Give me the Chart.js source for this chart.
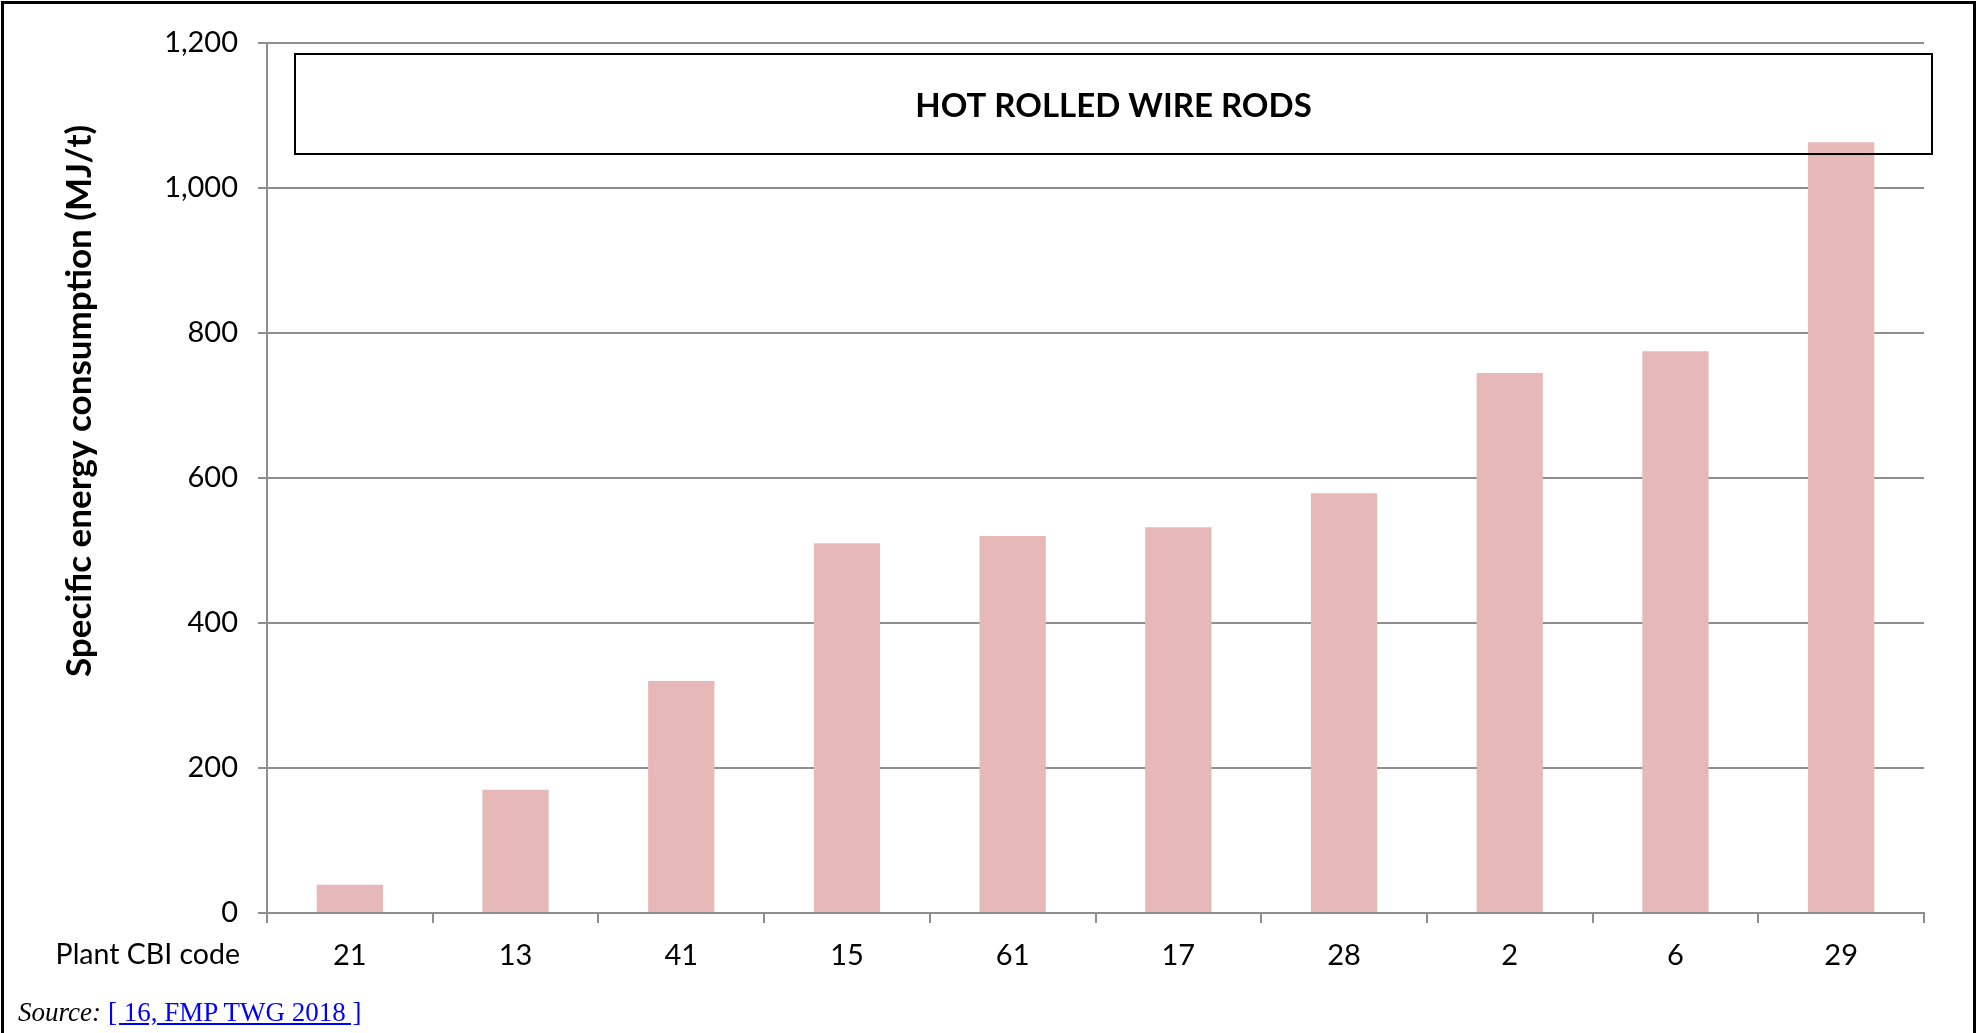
<!DOCTYPE html>
<html>
<head>
<meta charset="utf-8">
<script src="https://cdn.jsdelivr.net/npm/chart.js@4.4.1/dist/chart.umd.min.js"></script>
<style>
  html, body { margin: 0; padding: 0; background: #ffffff; }
  #wrap { position: relative; width: 1977px; height: 1033px; overflow: hidden; }
  #c { position: absolute; left: 0; top: 0; }
  #source { position: absolute; left: 18px; top: 997px; font-family: "Liberation Serif", "Times New Roman", serif; font-size: 27px; color: #000; white-space: nowrap; }
  #source i { font-style: italic; }
  #source a { color: #0000ff; text-decoration: underline; margin-left: 7px; }
</style>
</head>
<body>
<div id="wrap">
  <canvas id="c" width="1977" height="1033"></canvas>
  <div id="source"><i>Source:</i><a href="#">[ 16, FMP TWG 2018 ]</a></div>
</div>
<script>
const categories = ["21", "13", "41", "15", "61", "17", "28", "2", "6", "29"];
const energyValues = [39, 170, 320, 510, 520, 532, 579, 745, 775, 1063];
const yTicks = [0, 200, 400, 600, 800, 1000, 1200];
const chartTitle = "HOT ROLLED WIRE RODS";
const yAxisTitle = "Specific energy consumption (MJ/t)";
const xAxisCaption = "Plant CBI code";

const FONT = "Lato, 'Open Sans', sans-serif";
const GRID = "#8e8e8e";

const decorations = {
  id: "decorations",
  beforeDraw(chart) {
    const ctx = chart.ctx;
    ctx.save();
    ctx.fillStyle = "#ffffff";
    ctx.fillRect(0, 0, chart.width, chart.height);
    ctx.restore();
  },
  afterDraw(chart) {
    const ctx = chart.ctx;
    const area = chart.chartArea;
    ctx.save();
    // outer frame (top, left, right)
    ctx.strokeStyle = "#000";
    ctx.lineWidth = 3;
    ctx.beginPath();
    ctx.moveTo(2.5, chart.height + 5);
    ctx.lineTo(2.5, 2.5);
    ctx.lineTo(1974.5, 2.5);
    ctx.lineTo(1974.5, chart.height + 5);
    ctx.stroke();

    // title box
    const bx0 = area.left + 28;
    const bx1 = area.right + 8;
    const by0 = 54, by1 = 154;
    ctx.lineWidth = 2;
    ctx.strokeRect(bx0, by0, bx1 - bx0, by1 - by0);
    ctx.fillStyle = "#000";
    ctx.font = "bold 33px " + FONT;
    ctx.textAlign = "center";
    ctx.textBaseline = "middle";
    ctx.fillText(chartTitle, (bx0 + bx1) / 2, (by0 + by1) / 2 + 2);

    // y axis title
    ctx.save();
    ctx.translate(80, 401);
    ctx.rotate(-Math.PI / 2);
    ctx.font = "bold 35px " + FONT;
    ctx.fillText(yAxisTitle, 0, 0);
    ctx.restore();

    // x axis caption
    ctx.font = "28.5px " + FONT;
    ctx.textAlign = "right";
    ctx.textBaseline = "middle";
    ctx.fillText(xAxisCaption, 240, 955);
    ctx.restore();
  }
};

new Chart(document.getElementById("c"), {
  type: "bar",
  data: {
    labels: categories,
    datasets: [{
      data: energyValues,
      backgroundColor: "#e6b8b7",
      borderWidth: 0,
      barPercentage: 0.4,
      categoryPercentage: 1.0
    }]
  },
  options: {
    responsive: false,
    animation: false,
    devicePixelRatio: 1,
    layout: { padding: { left: 0, top: 43, right: 53, bottom: 0 } },
    plugins: {
      legend: { display: false },
      title: { display: false },
      tooltip: { enabled: false }
    },
    scales: {
      x: {
        offset: true,
        grid: {
          display: true,
          offset: true,
          drawOnChartArea: false,
          drawTicks: true,
          tickLength: 10,
          color: GRID,
          lineWidth: 2
        },
        border: { display: true, color: GRID, width: 2 },
        ticks: {
          color: "#000",
          font: { family: FONT, size: 29 },
          padding: 15,
          maxRotation: 0
        },
        afterFit(scale) { scale.height = 120; }
      },
      y: {
        min: 0,
        max: 1200,
        afterBuildTicks(scale) { scale.ticks = yTicks.map(v => ({ value: v })); },
        grid: {
          color: GRID,
          lineWidth: 2,
          tickLength: 9,
          drawTicks: true
        },
        border: { display: true, color: GRID, width: 2 },
        ticks: {
          color: "#000",
          font: { family: FONT, size: 29 },
          padding: 20,
          callback: v => v.toLocaleString("en-US")
        },
        afterFit(scale) { scale.width = 267; }
      }
    }
  },
  plugins: [decorations]
});
</script>
</body>
</html>
